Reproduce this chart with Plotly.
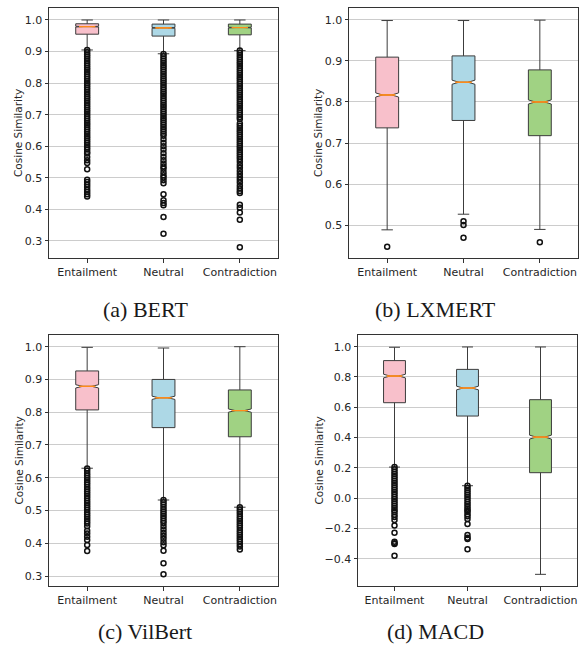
import plotly.graph_objects as go

W, H = 580, 648

categories = ["Entailment", "Neutral", "Contradiction"]
positions = [1, 2, 3]
fill_colors = ["#f8c0cb", "#add8e6", "#a0d283"]
median_color = "#ff8c1a"
edge_color = "#3c3c3c"

# ---------------- (a) BERT ----------------
bert_q1 = [0.955, 0.949, 0.953]
bert_med = [0.979, 0.975, 0.976]
bert_q3 = [0.988, 0.987, 0.987]
bert_lo = [0.905, 0.893, 0.903]
bert_hi = [1.0, 1.0, 1.0]
bert_notch = [0.0012, 0.0012, 0.0012]
bert_out_ent = [0.905, 0.898, 0.891, 0.884, 0.877, 0.870, 0.863, 0.856, 0.849, 0.842,
                0.835, 0.828, 0.821, 0.814, 0.807, 0.800, 0.793, 0.786, 0.779, 0.772,
                0.765, 0.758, 0.751, 0.744, 0.737, 0.730, 0.723, 0.716, 0.709, 0.702,
                0.695, 0.688, 0.681, 0.674, 0.667, 0.660, 0.653, 0.646, 0.639, 0.632,
                0.625, 0.618, 0.611, 0.604, 0.597, 0.590, 0.582, 0.577, 0.566, 0.556,
                0.547, 0.527, 0.494, 0.487, 0.479, 0.471, 0.462, 0.455, 0.448, 0.441]
bert_out_neu = [0.892, 0.885, 0.878, 0.871, 0.864, 0.857, 0.850, 0.843, 0.836, 0.829,
                0.822, 0.815, 0.808, 0.801, 0.794, 0.787, 0.780, 0.773, 0.766, 0.759,
                0.752, 0.745, 0.738, 0.731, 0.724, 0.717, 0.710, 0.703, 0.696, 0.689,
                0.682, 0.675, 0.668, 0.661, 0.654, 0.647, 0.640, 0.633, 0.622, 0.611,
                0.600, 0.590, 0.578, 0.567, 0.556, 0.545, 0.536, 0.529, 0.518, 0.508,
                0.501, 0.492, 0.483, 0.448, 0.429, 0.420, 0.413, 0.376, 0.323]
bert_out_con = [0.903, 0.896, 0.889, 0.882, 0.875, 0.868, 0.861, 0.854, 0.847, 0.840,
                0.833, 0.826, 0.819, 0.812, 0.805, 0.798, 0.791, 0.784, 0.777, 0.770,
                0.763, 0.756, 0.749, 0.742, 0.735, 0.728, 0.721, 0.714, 0.707, 0.700,
                0.693, 0.686, 0.672, 0.665, 0.658, 0.651, 0.644, 0.637, 0.630, 0.623,
                0.616, 0.609, 0.602, 0.595, 0.588, 0.581, 0.574, 0.567, 0.560, 0.551,
                0.541, 0.532, 0.522, 0.512, 0.503, 0.494, 0.485, 0.475, 0.466, 0.458,
                0.452, 0.415, 0.405, 0.390, 0.367, 0.280]

# ---------------- (b) LXMERT ----------------
lx_q1 = [0.737, 0.755, 0.718]
lx_med = [0.817, 0.848, 0.800]
lx_q3 = [0.909, 0.912, 0.878]
lx_lo = [0.489, 0.527, 0.490]
lx_hi = [0.998, 0.998, 0.999]
lx_notch = [0.005, 0.005, 0.005]
lx_out_ent = [0.448]
lx_out_neu = [0.510, 0.501, 0.470]
lx_out_con = [0.459]

# ---------------- (c) VilBert ----------------
vb_q1 = [0.807, 0.753, 0.725]
vb_med = [0.879, 0.844, 0.805]
vb_q3 = [0.926, 0.900, 0.868]
vb_lo = [0.629, 0.532, 0.510]
vb_hi = [0.998, 0.996, 1.0]
vb_notch = [0.005, 0.005, 0.005]
vb_out_ent = [0.628, 0.621, 0.614, 0.607, 0.600, 0.593, 0.586, 0.579, 0.572, 0.565,
              0.558, 0.551, 0.544, 0.537, 0.530, 0.523, 0.516, 0.509, 0.502, 0.495,
              0.488, 0.481, 0.474, 0.467, 0.460, 0.452, 0.438, 0.430, 0.420, 0.410,
              0.395, 0.376]
vb_out_neu = [0.532, 0.525, 0.518, 0.511, 0.504, 0.497, 0.490, 0.483, 0.476, 0.469,
              0.462, 0.452, 0.442, 0.432, 0.423, 0.414, 0.403, 0.394, 0.377, 0.339,
              0.305]
vb_out_con = [0.510, 0.503, 0.496, 0.489, 0.482, 0.475, 0.468, 0.461, 0.454, 0.447,
              0.440, 0.433, 0.426, 0.419, 0.412, 0.405, 0.398, 0.390, 0.381]

# ---------------- (d) MACD ----------------
macd_q1 = [0.630, 0.542, 0.168]
macd_med = [0.806, 0.727, 0.403]
macd_q3 = [0.908, 0.850, 0.650]
macd_lo = [0.205, 0.082, -0.503]
macd_hi = [0.996, 0.998, 0.998]
macd_notch = [0.012, 0.012, 0.013]
macd_out_ent = [0.205, 0.190, 0.175, 0.160, 0.145, 0.130, 0.115, 0.100, 0.085, 0.070,
                0.055, 0.040, 0.025, 0.010, -0.005, -0.020, -0.035, -0.050, -0.065,
                -0.080, -0.092, -0.110, -0.125, -0.145, -0.180, -0.228, -0.288, -0.298,
                -0.303, -0.380]
macd_out_neu = [0.082, 0.067, 0.052, 0.037, 0.022, 0.007, -0.008, -0.023, -0.038,
                -0.053, -0.068, -0.080, -0.090, -0.107, -0.120, -0.138, -0.171, -0.244,
                -0.262, -0.270, -0.338]
macd_out_con = []

# tick labels
ticks_a = [0.3, 0.4, 0.5, 0.6, 0.7, 0.8, 0.9, 1.0]
ticks_a_text = ["0.3", "0.4", "0.5", "0.6", "0.7", "0.8", "0.9", "1.0"]
ticks_b = [0.5, 0.6, 0.7, 0.8, 0.9, 1.0]
ticks_b_text = ["0.5", "0.6", "0.7", "0.8", "0.9", "1.0"]
ticks_d = [-0.4, -0.2, 0.0, 0.2, 0.4, 0.6, 0.8, 1.0]
ticks_d_text = ["\u22120.4", "\u22120.2", "0.0", "0.2", "0.4", "0.6", "0.8", "1.0"]

captions = ["(a) BERT", "(b) LXMERT", "(c) VilBert", "(d) MACD"]
y_title = "Cosine Similarity"

panels = [
    dict(q1=bert_q1, med=bert_med, q3=bert_q3, lo=bert_lo, hi=bert_hi, notch=bert_notch,
         outs=[bert_out_ent, bert_out_neu, bert_out_con],
         box=(49, 278, 8, 258), yrange=[0.246, 1.038], tv=ticks_a, tt=ticks_a_text,
         ytx=18, cap=(145, 309)),
    dict(q1=lx_q1, med=lx_med, q3=lx_q3, lo=lx_lo, hi=lx_hi, notch=lx_notch,
         outs=[lx_out_ent, lx_out_neu, lx_out_con],
         box=(349, 578, 8, 258), yrange=[0.4205, 1.0285], tv=ticks_b, tt=ticks_b_text,
         ytx=318, cap=(435, 309)),
    dict(q1=vb_q1, med=vb_med, q3=vb_q3, lo=vb_lo, hi=vb_hi, notch=vb_notch,
         outs=[vb_out_ent, vb_out_neu, vb_out_con],
         box=(49, 278, 335, 586), yrange=[0.2695, 1.0357], tv=ticks_a, tt=ticks_a_text,
         ytx=18, cap=(145, 631)),
    dict(q1=macd_q1, med=macd_med, q3=macd_q3, lo=macd_lo, hi=macd_hi, notch=macd_notch,
         outs=[macd_out_ent, macd_out_neu, macd_out_con],
         box=(358, 577, 335, 586), yrange=[-0.58, 1.077], tv=ticks_d, tt=ticks_d_text,
         ytx=318, cap=(435, 631)),
]

BOX_W = 0.3
NOTCH_W = 0.3

fig = go.Figure()
layout = {}
annotations = []
tick_font = dict(family="DejaVu Sans", size=11, color="#262626")

for k, p in enumerate(panels):
    sfx = "" if k == 0 else str(k + 1)
    xa, ya = "x" + sfx, "y" + sfx
    for i in range(3):
        fig.add_trace(go.Box(
            x=[positions[i]], q1=[p["q1"][i]], median=[p["med"][i]], q3=[p["q3"][i]],
            lowerfence=[p["lo"][i]], upperfence=[p["hi"][i]], notchspan=[p["notch"][i]],
            notched=True, notchwidth=NOTCH_W, width=BOX_W, whiskerwidth=0.5,
            fillcolor=fill_colors[i], line=dict(color=edge_color, width=1),
            boxpoints=False, hoverinfo="skip", showlegend=False, xaxis=xa, yaxis=ya))
        # orange median segment (spans between notch points)
        fig.add_trace(go.Box(
            x=[positions[i]], q1=[p["med"][i]], median=[p["med"][i]], q3=[p["med"][i]],
            lowerfence=[p["med"][i]], upperfence=[p["med"][i]],
            width=BOX_W * (1 - NOTCH_W), whiskerwidth=0.0,
            fillcolor="rgba(0,0,0,0)", line=dict(color=median_color, width=1),
            boxpoints=False, hoverinfo="skip", showlegend=False, xaxis=xa, yaxis=ya))
        if p["outs"][i]:
            fig.add_trace(go.Scatter(
                x=[positions[i]] * len(p["outs"][i]), y=p["outs"][i], mode="markers",
                marker=dict(symbol="circle", size=5, color="rgba(0,0,0,0)",
                            line=dict(color="#111111", width=1.5)),
                hoverinfo="skip", showlegend=False, xaxis=xa, yaxis=ya))
    x0, x1, yt, yb = p["box"]
    layout["xaxis" + sfx] = dict(
        domain=[x0 / W, x1 / W], anchor=ya, range=[0.5, 3.5],
        tickvals=positions, ticktext=categories, tickfont=tick_font,
        ticks="outside", ticklen=3.5, tickcolor="#333", showgrid=False, zeroline=False,
        showline=True, mirror=True, linecolor="#333", linewidth=1)
    layout["yaxis" + sfx] = dict(
        domain=[1 - yb / H, 1 - yt / H], anchor=xa, range=p["yrange"],
        tickvals=p["tv"], ticktext=p["tt"], tickfont=tick_font,
        ticks="outside", ticklen=3.5, tickcolor="#333",
        showgrid=True, gridcolor="#cccccc", gridwidth=1, zeroline=False,
        showline=True, mirror=True, linecolor="#333", linewidth=1)
    annotations.append(dict(
        text=y_title, x=p["ytx"] / W, y=1 - ((yt + yb) / 2) / H, xref="paper", yref="paper",
        textangle=-90, showarrow=False, xanchor="center", yanchor="middle",
        font=dict(family="DejaVu Sans", size=10.5, color="#262626")))
    annotations.append(dict(
        text=captions[k], x=p["cap"][0] / W, y=1 - p["cap"][1] / H, xref="paper",
        yref="paper", showarrow=False, xanchor="center", yanchor="middle",
        font=dict(family="Liberation Serif", size=22, color="#1a1a1a")))

fig.update_layout(
    width=W, height=H, margin=dict(l=0, r=0, t=0, b=0),
    paper_bgcolor="white", plot_bgcolor="white", boxmode="overlay",
    annotations=annotations, **layout)

fig.write_html("out.html", config={"displayModeBar": False},
               post_script="document.body.style.margin='0px';document.body.style.overflow='hidden';")
